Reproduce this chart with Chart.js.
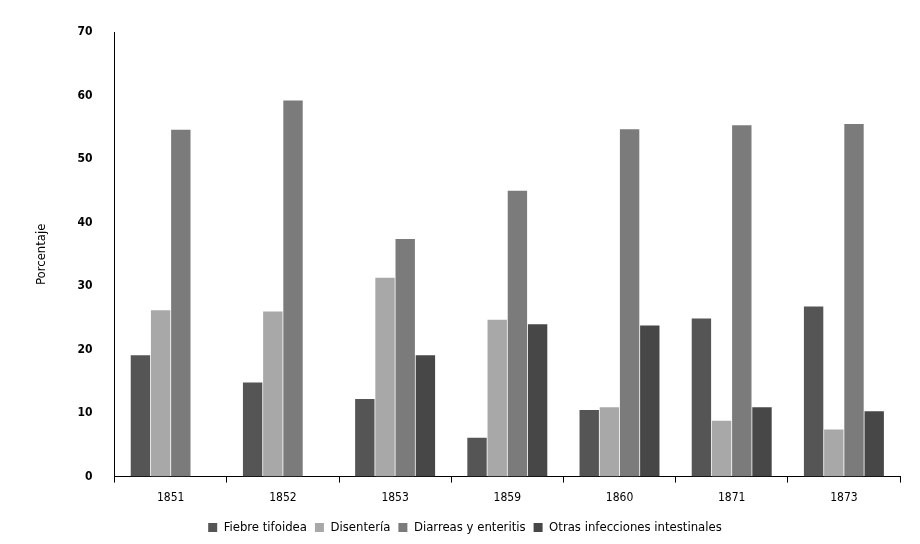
<!DOCTYPE html>
<html>
<head>
<meta charset="utf-8">
<script src="https://cdn.jsdelivr.net/npm/chart.js@4/dist/chart.umd.min.js"></script>
<style>
  body { margin: 0; background: #fff; }
  #wrap { width: 920px; height: 544px; }
</style>
</head>
<body>
<div id="wrap"><canvas id="chart"></canvas></div>
<script>
// Years (categories)
const years = ['1851', '1852', '1853', '1859', '1860', '1871', '1873'];

// Percentages by cause
const fiebre = [19.1, 14.8, 12.2, 6.1, 10.5, 24.9, 26.8];
const disenteria = [26.2, 26.0, 31.3, 24.7, 10.9, 8.8, 7.4];
const diarreas = [54.6, 59.2, 37.4, 45.0, 54.7, 55.3, 55.5];
const otras = [0, 0, 19.1, 24.0, 23.8, 10.9, 10.3];

const font = { family: 'DejaVu Sans Condensed', size: 12 };

function ds(label, data, color) {
  return { label: label, data: data, backgroundColor: color,
    barPercentage: 0.96, categoryPercentage: 0.72 };
}

var ctx = document.getElementById('chart').getContext('2d');
var myChart = new Chart(ctx, {
  type: 'bar',
  data: {
    labels: years,
    datasets: [
      ds('Fiebre tifoidea', fiebre, '#555555'),
      ds('Disentería', disenteria, '#a8a8a8'),
      ds('Diarreas y enteritis', diarreas, '#7b7b7b'),
      ds('Otras infecciones intestinales', otras, '#474747')
    ]
  },
  options: {
    responsive: true,
    maintainAspectRatio: false,
    animation: false,
    layout: { padding: { left: 30, right: 20, top: 32, bottom: 0 } },
    plugins: {
      tooltip: { enabled: false },
      legend: {
        position: 'bottom',
        labels: { boxWidth: 9, boxHeight: 9, padding: 8, color: '#000', font: { family: font.family, size: 13 } }
      }
    },
    scales: {
      x: {
        offset: true,
        grid: { offset: true, drawOnChartArea: false, drawTicks: true, tickLength: 6, color: '#000' },
        border: { color: '#000' },
        ticks: { color: '#000', padding: 8, font: font }
      },
      y: {
        min: 0, max: 70,
        ticks: { stepSize: 10, color: '#000', padding: 14, font: { family: font.family, size: 12, weight: 'bold' } },
        grid: { display: false },
        border: { color: '#000' },
        title: { display: true, text: 'Porcentaje', color: '#000', padding: { bottom: 14 }, font: { family: font.family, size: 13 } }
      }
    }
  }
});
</script>
</body>
</html>
